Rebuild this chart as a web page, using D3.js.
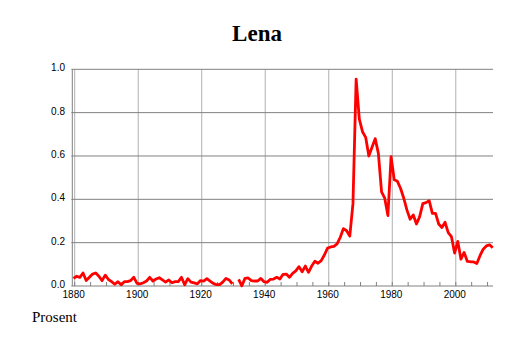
<!DOCTYPE html>
<html>
<head>
<meta charset="utf-8">
<script src="https://cdn.jsdelivr.net/npm/d3@7"></script>
<style>
  body { margin: 0; background: #fff; }
  svg { display: block; }
  .title { font-family: "Liberation Serif", "Times New Roman", serif; font-weight: bold; font-size: 23px; }
  .unit { font-family: "Liberation Serif", "Times New Roman", serif; font-size: 15px; }
  .tick-label { font-family: "Liberation Sans", Arial, sans-serif; font-size: 10px; fill: #000; }
</style>
</head>
<body>
<div id="chart"></div>
<script>
// Lena, share of newborns (percent), 1880-2012; 1931 has no value
const startYear = 1880;
const values = [
  0.035, 0.045, 0.040, 0.060, 0.025, 0.040, 0.055, 0.060, 0.045, 0.025, // 1880
  0.050, 0.030, 0.020, 0.008, 0.020, 0.006, 0.020, 0.020, 0.025, 0.040, // 1890
  0.012, 0.010, 0.015, 0.023, 0.040, 0.023, 0.032, 0.038, 0.028, 0.018, // 1900
  0.028, 0.015, 0.020, 0.020, 0.040, 0.006, 0.034, 0.018, 0.014, 0.010, // 1910
  0.025, 0.023, 0.034, 0.023, 0.012, 0.006, 0.006, 0.018, 0.035, 0.028, // 1920
  0.010, null,  0.031, 0.001, 0.035, 0.037, 0.025, 0.023, 0.023, 0.035, // 1930
  0.020, 0.017, 0.031, 0.032, 0.040, 0.032, 0.054, 0.055, 0.040, 0.058, // 1940
  0.070, 0.089, 0.066, 0.092, 0.063, 0.092, 0.114, 0.105, 0.117, 0.143, // 1950
  0.175, 0.180, 0.183, 0.194, 0.225, 0.265, 0.255, 0.230, 0.380, 0.955, // 1960
  0.770, 0.712, 0.686, 0.600, 0.640, 0.680, 0.612, 0.434, 0.405, 0.325, // 1970
  0.597, 0.490, 0.483, 0.450, 0.405, 0.350, 0.308, 0.328, 0.286, 0.320, // 1980
  0.380, 0.385, 0.394, 0.335, 0.335, 0.286, 0.270, 0.294, 0.246, 0.228, // 1990
  0.152, 0.206, 0.124, 0.155, 0.114, 0.112, 0.111, 0.104, 0.140, 0.170, // 2000
  0.185, 0.190, 0.176                                                    // 2010
];
const years = values.map((v, i) => startYear + i);
const data = years.map((y, i) => ({ year: y, value: values[i] }));

const yTicks = [0, 0.2, 0.4, 0.6, 0.8, 1.0];
const xTicks = [1880, 1900, 1920, 1940, 1960, 1980, 2000];
const minorTicks = d3.range(1880, 2013, 5);
const titleText = "Lena";
const unitText = "Prosent";

const width = 514, height = 343;
const plotLeft = 72.3, plotRight = 493, plotTop = 69.3, plotBottom = 286;
const gridShift = 1.2; // grid sits a bit right of the year points in the original

const svg = d3.select("#chart").append("svg")
    .attr("width", width)
    .attr("height", height);

const x = d3.scaleLinear()
    .domain([1880, 2012])
    .range([73.5, 492.7]);

const y = d3.scaleLinear()
    .domain([0, 1])
    .range([plotBottom, plotTop]);

// Title
svg.append("text")
    .attr("class", "title")
    .attr("x", width / 2)
    .attr("y", 41)
    .attr("text-anchor", "middle")
    .text(titleText);

// Vertical grid
svg.append("g")
    .selectAll("line")
    .data(xTicks)
    .join("line")
    .attr("x1", d => x(d) + gridShift)
    .attr("x2", d => x(d) + gridShift)
    .attr("y1", plotTop)
    .attr("y2", plotBottom)
    .attr("stroke", "#b0b0b0")
    .attr("stroke-width", 1);

// Horizontal grid
svg.append("g")
    .selectAll("line")
    .data(yTicks)
    .join("line")
    .attr("x1", plotLeft - 1)
    .attr("x2", plotRight)
    .attr("y1", d => y(d))
    .attr("y2", d => y(d))
    .attr("stroke", "#808080")
    .attr("stroke-width", 1);

// Left axis line
svg.append("line")
    .attr("x1", plotLeft).attr("x2", plotLeft)
    .attr("y1", plotTop).attr("y2", plotBottom)
    .attr("stroke", "#808080");

// Minor ticks on bottom axis
svg.append("g")
    .selectAll("line")
    .data(minorTicks)
    .join("line")
    .attr("x1", d => x(d) + gridShift)
    .attr("x2", d => x(d) + gridShift)
    .attr("y1", plotBottom - 4)
    .attr("y2", plotBottom)
    .attr("stroke", "#808080");

// Y labels
svg.append("g")
    .selectAll("text")
    .data(yTicks)
    .join("text")
    .attr("class", "tick-label")
    .attr("x", 65)
    .attr("y", d => y(d) + 2)
    .attr("text-anchor", "end")
    .text(d => d3.format(".1f")(d));

// X labels
svg.append("g")
    .selectAll("text")
    .data(xTicks)
    .join("text")
    .attr("class", "tick-label")
    .attr("x", d => x(d) + gridShift - 1)
    .attr("y", 297.5)
    .attr("text-anchor", "middle")
    .text(d => d);

// The line
const line = d3.line()
    .defined(d => d.value !== null)
    .x(d => x(d.year))
    .y(d => y(d.value));

svg.append("path")
    .datum(data)
    .attr("fill", "none")
    .attr("stroke", "#ff0000")
    .attr("stroke-width", 2.8)
    .attr("stroke-linejoin", "round")
    .attr("d", line);

// Unit label
svg.append("text")
    .attr("class", "unit")
    .attr("x", 32)
    .attr("y", 322)
    .text(unitText);
</script>
</body>
</html>
